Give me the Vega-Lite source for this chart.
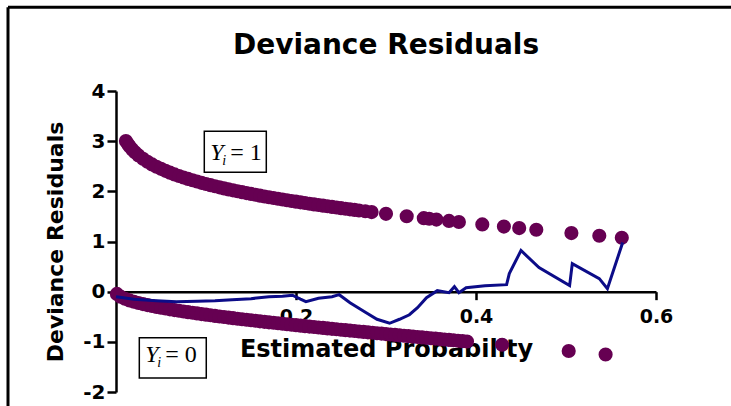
{
  "$schema": "https://vega.github.io/schema/vega-lite/v6.json",
  "width": 540,
  "height": 301,
  "autosize": {"type": "none"},
  "padding": {"left": 116, "top": 91, "right": 75, "bottom": 14},
  "background": "white",
  "title": {"text": "Deviance Residuals", "font": "DejaVu Sans", "fontSize": 28, "fontWeight": "bold", "color": "black", "anchor": "middle", "offset": 2, "dy": 78, "baseline": "alphabetic"},
  "config": {
    "view": {"stroke": null},
    "axis": {"grid": false, "domainColor": "black", "tickColor": "black", "labelColor": "black", "titleColor": "black", "labelFont": "DejaVu Sans", "titleFont": "DejaVu Sans", "labelFontWeight": "bold", "titleFontWeight": "bold", "domainWidth": 2.5, "tickWidth": 2.5, "labelFlush": false, "labelOverlap": false}
  },
  "datasets": {
    "upper": [
      {"p": 0.011, "r": 3.003}, {"p": 0.013, "r": 2.947}, {"p": 0.015, "r": 2.898}, {"p": 0.018, "r": 2.835},
      {"p": 0.021, "r": 2.78}, {"p": 0.025, "r": 2.716}, {"p": 0.03, "r": 2.648}, {"p": 0.035, "r": 2.589},
      {"p": 0.04, "r": 2.537}, {"p": 0.045, "r": 2.49}, {"p": 0.05, "r": 2.448}, {"p": 0.055, "r": 2.409},
      {"p": 0.06, "r": 2.372}, {"p": 0.065, "r": 2.338}, {"p": 0.07, "r": 2.306}, {"p": 0.075, "r": 2.276},
      {"p": 0.08, "r": 2.248}, {"p": 0.085, "r": 2.221}, {"p": 0.09, "r": 2.195}, {"p": 0.095, "r": 2.17},
      {"p": 0.1, "r": 2.146}, {"p": 0.105, "r": 2.123}, {"p": 0.11, "r": 2.101}, {"p": 0.115, "r": 2.08},
      {"p": 0.12, "r": 2.059}, {"p": 0.125, "r": 2.039}, {"p": 0.13, "r": 2.02}, {"p": 0.135, "r": 2.001},
      {"p": 0.14, "r": 1.983}, {"p": 0.145, "r": 1.965}, {"p": 0.15, "r": 1.948}, {"p": 0.155, "r": 1.931},
      {"p": 0.16, "r": 1.914}, {"p": 0.165, "r": 1.898}, {"p": 0.17, "r": 1.883}, {"p": 0.175, "r": 1.867},
      {"p": 0.18, "r": 1.852}, {"p": 0.185, "r": 1.837}, {"p": 0.19, "r": 1.822}, {"p": 0.195, "r": 1.808},
      {"p": 0.2, "r": 1.794}, {"p": 0.205, "r": 1.78}, {"p": 0.21, "r": 1.767}, {"p": 0.215, "r": 1.753},
      {"p": 0.22, "r": 1.74}, {"p": 0.225, "r": 1.727}, {"p": 0.23, "r": 1.714}, {"p": 0.235, "r": 1.702},
      {"p": 0.24, "r": 1.689}, {"p": 0.245, "r": 1.677}, {"p": 0.25, "r": 1.665}, {"p": 0.255, "r": 1.653},
      {"p": 0.26, "r": 1.641}, {"p": 0.265, "r": 1.63}, {"p": 0.27, "r": 1.618}, {"p": 0.277, "r": 1.602},
      {"p": 0.284, "r": 1.587}, {"p": 0.3, "r": 1.552}, {"p": 0.323, "r": 1.503},
      {"p": 0.342, "r": 1.465}, {"p": 0.348, "r": 1.453}, {"p": 0.356, "r": 1.437}, {"p": 0.37, "r": 1.41}, {"p": 0.381, "r": 1.389},
      {"p": 0.407, "r": 1.341}, {"p": 0.431, "r": 1.297}, {"p": 0.448, "r": 1.267}, {"p": 0.467, "r": 1.234},
      {"p": 0.506, "r": 1.167}, {"p": 0.537, "r": 1.115}, {"p": 0.562, "r": 1.074}
    ],
    "lower": [
      {"p": 0.001, "r": -0.045}, {"p": 0.005, "r": -0.1}, {"p": 0.01, "r": -0.142}, {"p": 0.015, "r": -0.174},
      {"p": 0.02, "r": -0.201}, {"p": 0.025, "r": -0.225}, {"p": 0.03, "r": -0.247}, {"p": 0.035, "r": -0.267},
      {"p": 0.04, "r": -0.286}, {"p": 0.045, "r": -0.304}, {"p": 0.05, "r": -0.32}, {"p": 0.055, "r": -0.336},
      {"p": 0.06, "r": -0.352}, {"p": 0.065, "r": -0.367}, {"p": 0.07, "r": -0.381}, {"p": 0.075, "r": -0.395},
      {"p": 0.08, "r": -0.408}, {"p": 0.085, "r": -0.421}, {"p": 0.09, "r": -0.434}, {"p": 0.095, "r": -0.447},
      {"p": 0.1, "r": -0.459}, {"p": 0.105, "r": -0.471}, {"p": 0.11, "r": -0.483}, {"p": 0.115, "r": -0.494},
      {"p": 0.12, "r": -0.506}, {"p": 0.125, "r": -0.517}, {"p": 0.13, "r": -0.528}, {"p": 0.135, "r": -0.539},
      {"p": 0.14, "r": -0.549}, {"p": 0.145, "r": -0.56}, {"p": 0.15, "r": -0.57}, {"p": 0.155, "r": -0.58},
      {"p": 0.16, "r": -0.591}, {"p": 0.165, "r": -0.601}, {"p": 0.17, "r": -0.611}, {"p": 0.175, "r": -0.62},
      {"p": 0.18, "r": -0.63}, {"p": 0.185, "r": -0.64}, {"p": 0.19, "r": -0.649}, {"p": 0.195, "r": -0.659},
      {"p": 0.2, "r": -0.668}, {"p": 0.205, "r": -0.678}, {"p": 0.21, "r": -0.687}, {"p": 0.215, "r": -0.696},
      {"p": 0.22, "r": -0.705}, {"p": 0.225, "r": -0.714}, {"p": 0.23, "r": -0.723}, {"p": 0.235, "r": -0.732},
      {"p": 0.24, "r": -0.741}, {"p": 0.245, "r": -0.75}, {"p": 0.25, "r": -0.759}, {"p": 0.255, "r": -0.768},
      {"p": 0.26, "r": -0.776}, {"p": 0.265, "r": -0.785}, {"p": 0.27, "r": -0.793}, {"p": 0.275, "r": -0.802},
      {"p": 0.28, "r": -0.811}, {"p": 0.285, "r": -0.819}, {"p": 0.29, "r": -0.828}, {"p": 0.295, "r": -0.836},
      {"p": 0.3, "r": -0.845}, {"p": 0.305, "r": -0.853}, {"p": 0.31, "r": -0.862}, {"p": 0.315, "r": -0.87},
      {"p": 0.32, "r": -0.878}, {"p": 0.325, "r": -0.887}, {"p": 0.33, "r": -0.895}, {"p": 0.335, "r": -0.903},
      {"p": 0.34, "r": -0.912}, {"p": 0.345, "r": -0.92}, {"p": 0.35, "r": -0.928}, {"p": 0.355, "r": -0.936},
      {"p": 0.36, "r": -0.945}, {"p": 0.365, "r": -0.953}, {"p": 0.37, "r": -0.961}, {"p": 0.375, "r": -0.969},
      {"p": 0.38, "r": -0.978}, {"p": 0.385, "r": -0.986}, {"p": 0.39, "r": -0.994}, {"p": 0.429, "r": -1.059},
      {"p": 0.503, "r": -1.183}, {"p": 0.544, "r": -1.253}
    ],
    "trend": [
      {"p": 0.0, "r": -0.1}, {"p": 0.02, "r": -0.15}, {"p": 0.045, "r": -0.18}, {"p": 0.067, "r": -0.2},
      {"p": 0.09, "r": -0.19}, {"p": 0.11, "r": -0.18}, {"p": 0.129, "r": -0.16}, {"p": 0.15, "r": -0.14},
      {"p": 0.17, "r": -0.1}, {"p": 0.185, "r": -0.09}, {"p": 0.196, "r": -0.07}, {"p": 0.205, "r": -0.15},
      {"p": 0.211, "r": -0.2}, {"p": 0.225, "r": -0.13}, {"p": 0.24, "r": -0.1}, {"p": 0.248, "r": -0.06},
      {"p": 0.26, "r": -0.22}, {"p": 0.278, "r": -0.42}, {"p": 0.29, "r": -0.55}, {"p": 0.304, "r": -0.63},
      {"p": 0.315, "r": -0.55}, {"p": 0.326, "r": -0.46}, {"p": 0.335, "r": -0.32}, {"p": 0.345, "r": -0.12},
      {"p": 0.357, "r": 0.02}, {"p": 0.37, "r": -0.02}, {"p": 0.376, "r": 0.1}, {"p": 0.381, "r": -0.02},
      {"p": 0.389, "r": 0.08}, {"p": 0.41, "r": 0.12}, {"p": 0.434, "r": 0.14}, {"p": 0.437, "r": 0.36},
      {"p": 0.45, "r": 0.82}, {"p": 0.47, "r": 0.48}, {"p": 0.504, "r": 0.12}, {"p": 0.507, "r": 0.56},
      {"p": 0.537, "r": 0.26}, {"p": 0.546, "r": 0.06}, {"p": 0.563, "r": 0.98}
    ],
    "frame": [
      {"p": -0.12, "p2": -0.12, "r": 5.67, "r2": -2.4},
      {"p": -0.12, "p2": 0.69, "r": 5.67, "r2": 5.67}
    ],
    "boxes": [
      {"p": 0.0981, "p2": 0.167, "r": 3.2, "r2": 2.38},
      {"p": 0.0259, "p2": 0.1003, "r": -0.92, "r2": -1.72}
    ],
    "labels": [
      {"p": 0.0981, "r": 2.62, "ri": 2.52, "n": "= 1"},
      {"p": 0.0259, "r": -1.41, "ri": -1.51, "n": "= 0"}
    ]
  },
  "layer": [
    {"data": {"name": "upper"}, "mark": {"type": "circle", "size": 200, "opacity": 1, "color": "#660052"},
      "encoding": {
        "x": {"field": "p", "type": "quantitative",
          "scale": {"domain": [0, 0.6], "nice": false, "zero": false},
          "axis": {"values": [0.2, 0.4, 0.6], "format": ".1f", "offset": -100.33, "tickSize": 8, "labelPadding": 8, "labelFontSize": 19, "title": "Estimated Probability", "titleFontSize": 24, "titleY": 65, "titleBaseline": "alphabetic"}},
        "y": {"field": "r", "type": "quantitative",
          "scale": {"domain": [-2, 4], "nice": false, "zero": false},
          "axis": {"values": [-2, -1, 0, 1, 2, 3, 4], "labelExpr": "'' + datum.value", "tickSize": 9, "labelPadding": 2, "labelFontSize": 20, "title": "Deviance Residuals", "titleFontSize": 22, "titleX": -54, "titleY": 150.5, "titleAngle": -90, "titleAlign": "center", "titleBaseline": "alphabetic"}}
      }},
    {"data": {"name": "lower"}, "mark": {"type": "circle", "size": 200, "opacity": 1, "color": "#660052"},
      "encoding": {"x": {"field": "p", "type": "quantitative"}, "y": {"field": "r", "type": "quantitative"}}},
    {"data": {"name": "trend"}, "mark": {"type": "line", "color": "#0c0c88", "strokeWidth": 3},
      "encoding": {"x": {"field": "p", "type": "quantitative"}, "y": {"field": "r", "type": "quantitative"}}},
    {"data": {"name": "frame"}, "mark": {"type": "rule", "color": "black", "strokeWidth": 3, "clip": false},
      "encoding": {"x": {"field": "p", "type": "quantitative"}, "x2": {"field": "p2"}, "y": {"field": "r", "type": "quantitative"}, "y2": {"field": "r2"}}},
    {"data": {"name": "boxes"}, "mark": {"type": "rect", "fill": "white", "stroke": "black", "strokeWidth": 1.5},
      "encoding": {"x": {"field": "p", "type": "quantitative"}, "x2": {"field": "p2"}, "y": {"field": "r", "type": "quantitative"}, "y2": {"field": "r2"}}},
    {"data": {"name": "labels"}, "mark": {"type": "text", "font": "Liberation Serif", "fontStyle": "italic", "fontSize": 24, "align": "left", "baseline": "alphabetic", "dx": 6, "color": "black"},
      "encoding": {"x": {"field": "p", "type": "quantitative"}, "y": {"field": "r", "type": "quantitative"}, "text": {"value": "Y"}}},
    {"data": {"name": "labels"}, "mark": {"type": "text", "font": "Liberation Serif", "fontStyle": "italic", "fontSize": 14, "align": "left", "baseline": "alphabetic", "dx": 18, "color": "black"},
      "encoding": {"x": {"field": "p", "type": "quantitative"}, "y": {"field": "ri", "type": "quantitative"}, "text": {"value": "i"}}},
    {"data": {"name": "labels"}, "mark": {"type": "text", "font": "Liberation Serif", "fontSize": 24, "align": "left", "baseline": "alphabetic", "dx": 26, "color": "black"},
      "encoding": {"x": {"field": "p", "type": "quantitative"}, "y": {"field": "r", "type": "quantitative"}, "text": {"field": "n"}}}
  ]
}
